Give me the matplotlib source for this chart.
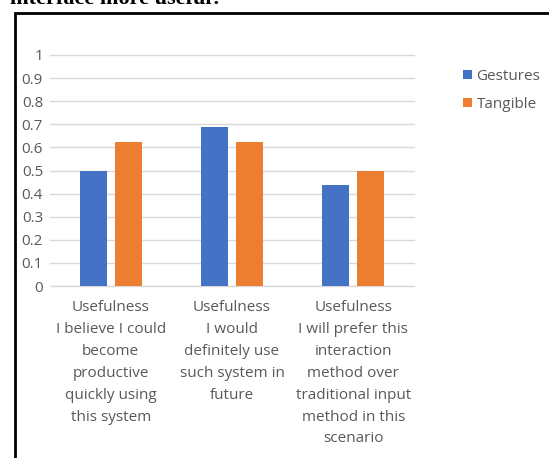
import matplotlib.pyplot as plt
import numpy as np
from matplotlib.patches import Rectangle

# Survey results (mean score, 0..1)
categories = [
    "Usefulness\nI believe I could\nbecome\nproductive\nquickly using\nthis system",
    "Usefulness\nI would\ndefinitely use\nsuch system in\nfuture",
    "Usefulness\nI will prefer this\ninteraction\nmethod over\ntraditional input\nmethod in this\nscenario",
]
gestures = [0.5, 0.6875, 0.4375]
tangible = [0.625, 0.625, 0.5]
series_names = ["Gestures", "Tangible"]
y_ticks = [0, 0.1, 0.2, 0.3, 0.4, 0.5, 0.6, 0.7, 0.8, 0.9, 1]
y_tick_labels = ["0", "0.1", "0.2", "0.3", "0.4", "0.5", "0.6", "0.7", "0.8", "0.9", "1"]

W, H = 549, 458
text_gray = "#595959"
fs = 11
plt.rcParams["font.family"] = ["Open Sans", "DejaVu Sans"]

fig = plt.figure(figsize=(W / 100, H / 100), dpi=100)

# caption line from the surrounding document, cut off at the top
fig.text(10 / W, 1 - 4 / H, "interface more useful?", family="Liberation Serif",
         weight="bold", fontsize=16, va="baseline", ha="left")

# frame around the chart object
fig.patches.append(Rectangle((15 / W, -0.1), 1.2, 1.1 - 13 / H, transform=fig.transFigure,
                             fill=False, edgecolor="black", linewidth=2))

ax = fig.add_axes([50 / W, 1 - 286 / H, 364 / W, 231 / H])
x = np.arange(len(categories))
w = 0.223
off = 0.145
ax.bar(x - off, gestures, w, color="#4472C4", label=series_names[0], zorder=3)
ax.bar(x + off, tangible, w, color="#ED7D31", label=series_names[1], zorder=3)

ax.set_xlim(-0.5, 2.5)
ax.set_ylim(0, 1)
ax.set_yticks(y_ticks)
ax.set_yticklabels(y_tick_labels, color=text_gray, fontsize=fs)
ax.set_xticks(x)
ax.set_xticklabels(categories, color=text_gray, fontsize=fs, linespacing=1.63)
ax.tick_params(length=0)
ax.tick_params(axis="y", pad=5)
ax.tick_params(axis="x", pad=10)
ax.grid(axis="y", color="#D9D9D9", linewidth=1, zorder=0)
for s in ax.spines.values():
    s.set_visible(False)
ax.axhline(0, color="#D9D9D9", linewidth=1, zorder=2)
for gl in ax.get_ygridlines():
    gl.set_clip_on(False)

leg = ax.legend(loc="upper left", bbox_to_anchor=(449 / W, 1 - 55 / H),
                bbox_transform=fig.transFigure, frameon=False, fontsize=fs,
                handlelength=0.6, handleheight=0.6, handletextpad=0.3,
                labelspacing=0.85, labelcolor=text_gray)

fig.savefig("out.png", dpi=100)
